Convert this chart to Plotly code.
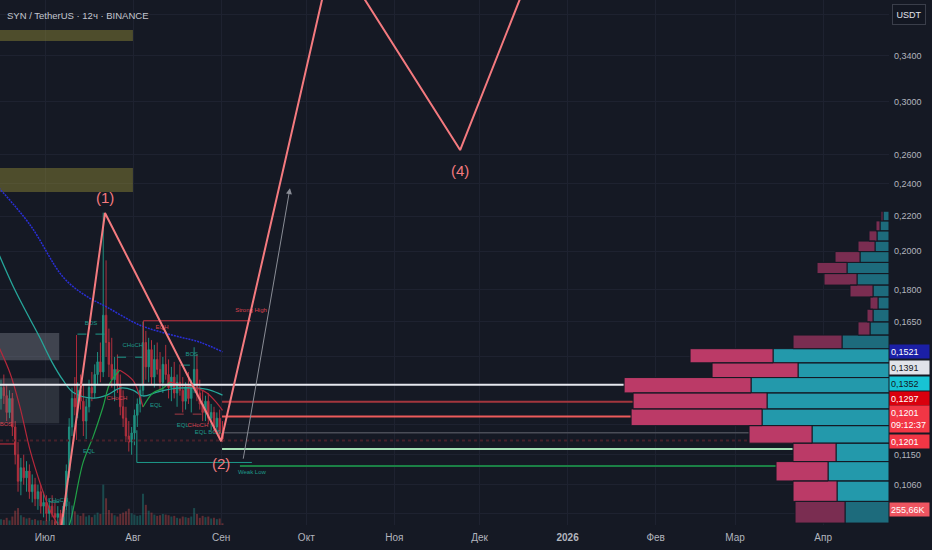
import numpy as np
import pandas as pd
import plotly.graph_objects as go

FONT = "Liberation Sans, Arial, sans-serif"
BG = "#151924"
GRID = "#1e2230"
AXIS_TXT = "#b2b5be"

title_text = "SYN / TetherUS · 12ч · BINANCE"

# ---------------- candles (daily approximation of the 12h chart) ----------------
candle_start = "2025-06-15 12:00"
opens = [0.134, 0.138, 0.135, 0.129, 0.134, 0.124, 0.115, 0.107, 0.111, 0.108,
         0.110, 0.104, 0.106, 0.102, 0.104, 0.100, 0.101, 0.098, 0.100, 0.098,
         0.097, 0.098, 0.095, 0.100, 0.110, 0.124, 0.134, 0.131, 0.137, 0.133,
         0.126, 0.131, 0.138, 0.136, 0.143, 0.148, 0.144, 0.168, 0.156, 0.147,
         0.141, 0.145, 0.139, 0.131, 0.127, 0.121, 0.119, 0.122, 0.128, 0.132,
         0.137, 0.156, 0.146, 0.153, 0.142, 0.149, 0.145, 0.140, 0.147, 0.143,
         0.138, 0.142, 0.136, 0.140, 0.137, 0.133, 0.138, 0.134, 0.139, 0.145,
         0.136, 0.132, 0.129, 0.133, 0.127, 0.129, 0.124, 0.127, 0.122]
highs = [0.141, 0.143, 0.139, 0.137, 0.136, 0.126, 0.119, 0.114, 0.115, 0.113,
         0.112, 0.109, 0.108, 0.106, 0.106, 0.104, 0.103, 0.102, 0.103, 0.101,
         0.100, 0.099, 0.101, 0.112, 0.127, 0.138, 0.142, 0.140, 0.143, 0.139,
         0.134, 0.141, 0.144, 0.147, 0.152, 0.156, 0.222, 0.195, 0.162, 0.158,
         0.150, 0.151, 0.143, 0.137, 0.131, 0.126, 0.124, 0.130, 0.134, 0.139,
         0.165, 0.161, 0.158, 0.157, 0.155, 0.156, 0.152, 0.150, 0.155, 0.149,
         0.146, 0.148, 0.143, 0.147, 0.142, 0.140, 0.144, 0.141, 0.154, 0.151,
         0.141, 0.137, 0.135, 0.136, 0.132, 0.131, 0.129, 0.130, 0.126]
lows = [0.130, 0.132, 0.126, 0.127, 0.121, 0.112, 0.104, 0.103, 0.106, 0.104,
        0.102, 0.101, 0.100, 0.099, 0.098, 0.097, 0.096, 0.096, 0.097, 0.095,
        0.094, 0.093, 0.094, 0.099, 0.108, 0.121, 0.128, 0.127, 0.130, 0.121,
        0.120, 0.129, 0.133, 0.134, 0.139, 0.140, 0.142, 0.150, 0.142, 0.138,
        0.133, 0.136, 0.128, 0.124, 0.119, 0.116, 0.115, 0.118, 0.124, 0.129,
        0.135, 0.141, 0.140, 0.139, 0.138, 0.143, 0.137, 0.136, 0.141, 0.134,
        0.133, 0.134, 0.131, 0.135, 0.129, 0.130, 0.132, 0.129, 0.136, 0.133,
        0.130, 0.126, 0.126, 0.125, 0.123, 0.122, 0.122, 0.120, 0.119]
closes = [0.138, 0.135, 0.129, 0.134, 0.124, 0.115, 0.107, 0.111, 0.108, 0.110,
          0.104, 0.106, 0.102, 0.104, 0.100, 0.101, 0.098, 0.100, 0.098, 0.097,
          0.098, 0.095, 0.100, 0.110, 0.124, 0.134, 0.131, 0.137, 0.133, 0.126,
          0.131, 0.138, 0.136, 0.143, 0.148, 0.144, 0.168, 0.156, 0.147, 0.141,
          0.145, 0.139, 0.131, 0.127, 0.121, 0.119, 0.122, 0.128, 0.132, 0.137,
          0.156, 0.146, 0.153, 0.142, 0.149, 0.145, 0.140, 0.147, 0.143, 0.138,
          0.142, 0.136, 0.140, 0.137, 0.133, 0.138, 0.134, 0.139, 0.145, 0.136,
          0.132, 0.129, 0.133, 0.127, 0.129, 0.124, 0.127, 0.122, 0.1201]
volumes_k = [900, 800, 1100, 700, 1300,
             2200, 2600, 1500, 1200, 1000,
             1100, 800, 900, 700, 750,
             650, 700, 600, 800, 550,
             500, 900, 1200, 2400, 3600,
             3000, 2100, 1600, 1400, 1800,
             1300, 1500, 1200, 1600, 1900,
             1700, 6200, 4100, 2300, 1800,
             1500, 1300, 1700, 1900, 2100,
             2500, 1800, 1600, 1400, 1500,
             4800, 3100, 2200, 1900, 1600,
             1400, 1500, 1700, 1600, 1500,
             1300, 1400, 1100, 1000, 1300,
             1200, 1100, 1300, 2600, 1700,
             1100, 1400, 1200, 1300, 1000,
             1100, 900, 1000, 256]
candle_dates = pd.date_range(candle_start, periods=len(closes), freq="D")

# ---------------- axes ----------------
x_start, x_end = "2025-06-15 03:36", "2026-04-24 04:20"
price_low, price_high = 0.0950, 0.3957
month_ticks = ["2025-07-01", "2025-08-01", "2025-09-01", "2025-10-01", "2025-11-01",
               "2025-12-01", "2026-01-01", "2026-02-01", "2026-03-01", "2026-04-01"]
month_labels = ["Июл", "Авг", "Сен", "Окт", "Ноя", "Дек", "<b>2026</b>", "Фев", "Мар", "Апр"]
price_ticks = [0.38, 0.34, 0.30, 0.26, 0.24, 0.22, 0.20, 0.18, 0.165, 0.15, 0.125, 0.115, 0.106, 0.098]
price_tick_labels = ["", "0,3400", "0,3000", "0,2600", "0,2400", "0,2200", "0,2000", "0,1800",
                     "0,1650", "", "", "0,1150", "0,1060", ""]

# ---------------- zones ----------------
zone_x0 = ["2025-06-10", "2025-06-10", "2025-06-10", "2025-06-10"]
zone_x1 = ["2025-07-31 23:00", "2025-07-31 23:00", "2025-07-06 00:00", "2025-07-06 00:00"]
zone_p0 = [0.3540, 0.2348, 0.1487, 0.1253]
zone_p1 = [0.3648, 0.2507, 0.1601, 0.1416]
zone_colors = ["rgba(158,150,58,0.42)", "rgba(158,150,58,0.42)",
               "rgba(125,128,140,0.42)", "rgba(125,128,140,0.24)"]

# ---------------- volume profile (bottom row -> top row) ----------------
profile_price_low = 0.0955
profile_row_size = 0.00579
profile_sell = [50, 44, 52, 43, 63, 131, 134, 127, 86, 83, 49, 12, 6, 8, 23, 33, 30, 25, 17, 8, 4, 2]
profile_buy = [44, 52, 61, 53, 77, 127, 122, 138, 91, 116, 47, 19, 16, 11, 16, 32, 42, 29, 14, 12, 9, 6]
profile_value_area = [0, 1, 1, 1, 1, 1, 1, 1, 1, 1, 0, 0, 0, 0, 0, 0, 0, 0, 0, 0, 0, 0]
profile_width_frac = 0.298

# ---------------- moving averages ----------------
blue_dates = ["2025-06-14 00:00", "2025-06-25 18:00", "2025-07-07 08:00", "2025-07-15 01:00",
              "2025-07-22 20:00", "2025-08-03 11:00", "2025-08-15 01:00", "2025-08-24 14:00",
              "2025-09-01 12:00"]
blue_vals = [0.2390, 0.2147, 0.1864, 0.1774, 0.1717, 0.1635, 0.1591, 0.1561, 0.1521]
teal_dates = ["2025-06-14 00:00", "2025-06-20 10:00", "2025-06-25 00:00", "2025-06-29 06:00",
              "2025-07-03 11:00", "2025-07-07 08:00", "2025-07-10 20:00", "2025-07-17 22:00",
              "2025-07-22 20:00", "2025-07-27 10:00", "2025-07-31 22:00", "2025-08-04 12:00",
              "2025-08-09 10:00", "2025-08-16 11:00", "2025-08-23 12:00", "2025-08-28 02:00",
              "2025-09-01 12:00"]
teal_vals = [0.2010, 0.1799, 0.1680, 0.1579, 0.1479, 0.1408, 0.1363, 0.1341, 0.1352,
             0.1378, 0.1371, 0.1349, 0.1363, 0.1378, 0.1378, 0.1371, 0.1352]
trend_segments = [
    ("#b5283b", ["2025-06-14 00:00", "2025-06-18 16:00", "2025-06-22 04:30", "2025-06-25 17:00",
                 "2025-06-29 06:00", "2025-07-02 18:00", "2025-07-05 05:00", "2025-07-07 16:00"],
     [0.1560, 0.1436, 0.1309, 0.1165, 0.1065, 0.0989, 0.0955, 0.0917]),
    ("#21a047", ["2025-07-07 16:00", "2025-07-09 19:00", "2025-07-14 08:00", "2025-07-17 22:00",
                 "2025-07-21 10:00", "2025-07-23 21:00", "2025-07-27 09:00"],
     [0.0917, 0.0955, 0.1124, 0.1207, 0.1309, 0.1397, 0.1447]),
    ("#b5283b", ["2025-07-27 09:00", "2025-07-31 22:00", "2025-08-03 11:00", "2025-08-04 12:00"],
     [0.1447, 0.1408, 0.1345, 0.1309]),
    ("#21a047", ["2025-08-04 12:00", "2025-08-08 00:00", "2025-08-11 13:00", "2025-08-14 00:00"],
     [0.1309, 0.1360, 0.1378, 0.1401]),
    ("#b5283b", ["2025-08-14 00:00", "2025-08-18 14:00", "2025-08-23 12:00", "2025-08-27 01:00",
                 "2025-08-30 13:00", "2025-09-01 12:00"],
     [0.1401, 0.1389, 0.1378, 0.1360, 0.1323, 0.1297]),
]

# ---------------- horizontal levels ----------------
level_prices = [0.1391, 0.1328, 0.1276, 0.1221, 0.1195, 0.1168, 0.1115]
level_starts = [x_start, "2025-09-01 08:00", "2025-09-01 08:00", "2025-09-01 08:00",
                x_start, "2025-09-01 08:00", "2025-09-07 15:00"]
level_styles = [("#e6e8ee", 2, "solid"), ("#a3363d", 2, "solid"), ("#ec5b5b", 2, "solid"),
                ("#4a4d57", 1.5, "solid"), ("#46202a", 2, "dot"), ("#a3dfb4", 2, "solid"),
                ("#1b8045", 2, "solid")]

# ---------------- market structure lines & labels ----------------
struct_lines = [
    (["2025-07-12 10:00", "2025-07-22 20:00"], [0.1596, 0.1596], "#1e9a8a", "dash"),
    (["2025-07-26 09:00", "2025-08-04 12:00"], [0.1499, 0.1499], "#1e9a8a", "dash"),
    (["2025-08-17 20:00", "2025-08-23 20:00"], [0.1467, 0.1467], "#1e9a8a", "dash"),
    (["2025-08-15 16:00", "2025-08-25 03:00"], [0.1284, 0.1284], "#a33a45", "dash"),
    (["2025-07-02 21:00", "2025-07-07 03:00"], [0.1011, 0.1011], "#1e9a8a", "dash"),
    (["2025-08-04 15:00", "2025-08-04 15:00", "2025-09-11 12:00"], [0.1391, 0.1655, 0.1655], "#c8323f", "solid"),
    (["2025-07-12 02:00", "2025-07-12 02:00"], [0.1197, 0.1592], "#b02a3a", "solid"),
    ([x_start, "2025-06-20 10:00"], [0.1184, 0.1184], "#d0303f", "solid"),
    (["2025-08-02 08:00", "2025-08-02 08:00", "2025-09-11 20:00"], [0.1229, 0.1126, 0.1126], "#1e9a8a", "solid"),
]
struct_text = ["BOS", "CHoCH", "CHoCH", "EQL", "EQH", "EQL", "BOS", "EQL", "CHoCH",
               "EQL BOS", "CHoCH", "BOS", "Strong High", "Weak Low"]
struct_dates = ["2025-07-17 04:30", "2025-07-31 22:00", "2025-07-26 08:00", "2025-07-16 11:00",
                "2025-08-11 04:30", "2025-08-09 01:00", "2025-08-21 16:00", "2025-08-18 13:00",
                "2025-08-23 20:00", "2025-08-27 08:00", "2025-07-05 13:00", "2025-06-17 06:00",
                "2025-09-11 13:00", "2025-09-11 20:00"]
struct_prices = [0.1644, 0.1549, 0.1338, 0.1161, 0.1627, 0.1316, 0.1512, 0.1246, 0.1246,
                 0.1220, 0.1016, 0.1249, 0.1703, 0.1097]
struct_bull = [1, 1, 0, 1, 0, 1, 1, 1, 0, 1, 1, 0, 0, 1]

# ---------------- Elliott wave projection ----------------
wave_dates = ["2025-07-06 18:00", "2025-07-22 03:00", "2025-09-01 00:00",
              "2025-10-10 13:00", "2025-11-24 04:00", "2025-12-29 08:00"]
wave_prices = [0.0945, 0.2218, 0.1193, 0.4533, 0.2632, 0.5222]
wave_labels = {1: "(1)", 2: "(2)", 4: "(4)"}
arrow_from = ("2025-09-08 17:00", 0.1133)
arrow_to = ("2025-09-25 06:00", 0.2373)

# ---------------- right scale badges ----------------
badge_prices = [0.1521, 0.1391, 0.1352, 0.1297, 0.1201, 0.1201]
badge_texts = ["0,1521", "0,1391", "0,1352", "0,1297", "0,1201<br>09:12:37", "0,1201"]
badge_bg = ["#1b1fa6", "#e1e3ea", "#18c3d3", "#d9000d", "#f23645", "#f23645"]
badge_fg = ["#ffffff", "#131722", "#131722", "#ffffff", "#ffffff", "#ffffff"]
badge_shift = [0, 17, 11.5, 12, 19.5, -3]
volume_badge = "255,66K"

fig = go.Figure()

for x0, x1, p0, p1, c in zip(zone_x0, zone_x1, zone_p0, zone_p1, zone_colors):
    fig.add_trace(go.Scatter(x=[x0, x1, x1, x0, x0], y=[p0, p0, p1, p1, p0], mode="lines",
                             fill="toself", fillcolor=c, line=dict(width=0),
                             hoverinfo="skip", showlegend=False))

# volume profile
W = max(s + b for s, b in zip(profile_sell, profile_buy)) / profile_width_frac
groups = {("buy", 1): ([], []), ("buy", 0): ([], []), ("sell", 1): ([], []), ("sell", 0): ([], [])}
for i, (s, b, va) in enumerate(zip(profile_sell, profile_buy, profile_value_area)):
    lo = profile_price_low + i * profile_row_size
    hi = lo + profile_row_size
    for side, a0, a1 in (("buy", 0, b), ("sell", b, b + s)):
        xs, ys = groups[(side, va)]
        xs += [a0, a1, a1, a0, a0, None]
        ys += [lo, lo, hi, hi, lo, None]
profile_colors = {("buy", 1): "#2399ab", ("buy", 0): "#1d6b7c",
                  ("sell", 1): "#bb3a67", ("sell", 0): "#7a2d51"}
for key, (xs, ys) in groups.items():
    fig.add_trace(go.Scatter(x=xs, y=ys, xaxis="x2", yaxis="y", mode="lines", fill="toself",
                             fillcolor=profile_colors[key], line=dict(width=1, color=BG),
                             hoverinfo="skip", showlegend=False))

vol_colors = ["rgba(38,166,154,0.35)" if c >= o else "rgba(239,83,80,0.35)"
              for o, c in zip(opens, closes)]
fig.add_trace(go.Bar(x=candle_dates, y=volumes_k, yaxis="y2", marker=dict(color=vol_colors, line=dict(width=0)),
                     width=0.7 * 86400000, hoverinfo="skip", showlegend=False))

fig.add_trace(go.Candlestick(x=candle_dates, open=opens, high=highs, low=lows, close=closes,
                             increasing=dict(line=dict(color="#1f8f7f", width=1), fillcolor="#1f8f7f"),
                             decreasing=dict(line=dict(color="#b0303e", width=1), fillcolor="#b0303e"),
                             hoverinfo="skip", showlegend=False))

fig.add_trace(go.Scatter(x=blue_dates, y=blue_vals, mode="lines",
                         line=dict(color="#2a2fd6", width=1.5, dash="2px,1px", shape="spline"),
                         hoverinfo="skip", showlegend=False))
fig.add_trace(go.Scatter(x=teal_dates, y=teal_vals, mode="lines", line=dict(color="#26a69a", width=1.3, shape="spline"),
                         hoverinfo="skip", showlegend=False))
for color, ds, vs in trend_segments:
    fig.add_trace(go.Scatter(x=ds, y=vs, mode="lines", line=dict(color=color, width=1.2, shape="spline"),
                             hoverinfo="skip", showlegend=False))

for ds, vs, c, dash in struct_lines:
    fig.add_trace(go.Scatter(x=ds, y=vs, mode="lines", line=dict(color=c, width=1, dash=dash),
                             hoverinfo="skip", showlegend=False))

for p, s, (c, w, dash) in zip(level_prices, level_starts, level_styles):
    fig.add_trace(go.Scatter(x=[s, x_end], y=[p, p], mode="lines", line=dict(color=c, width=w, dash=dash),
                             hoverinfo="skip", showlegend=False))

fig.add_trace(go.Scatter(x=struct_dates, y=struct_prices, mode="text", text=struct_text,
                         textfont=dict(size=6, family=FONT,
                                       color=["#1e9a8a" if b else "#d9434f" for b in struct_bull]),
                         cliponaxis=True, hoverinfo="skip", showlegend=False))

fig.add_trace(go.Scatter(x=wave_dates, y=wave_prices, mode="lines", line=dict(color="#f47a7f", width=2),
                         hoverinfo="skip", showlegend=False))

annotations = []
label_offsets = {1: 16, 2: -22, 4: -20}
for idx, txt in wave_labels.items():
    annotations.append(dict(x=wave_dates[idx], y=np.log10(wave_prices[idx]), xref="x", yref="y",
                            text=txt, showarrow=False, yshift=label_offsets[idx],
                            font=dict(size=15, color="#f47a7f", family=FONT)))
annotations.append(dict(x=arrow_to[0], y=np.log10(arrow_to[1]), ax=arrow_from[0], ay=np.log10(arrow_from[1]),
                        xref="x", yref="y", axref="x", ayref="y", text="", showarrow=True,
                        arrowhead=2, arrowsize=1.2, arrowwidth=1, arrowcolor="#8a8d96"))

annotations.append(dict(x=5 / 889, y=1, xref="paper", yref="paper", xanchor="left", yanchor="middle",
                        yshift=-15, text=title_text, showarrow=False,
                        font=dict(size=9.5, color="#c3c6ce", family=FONT)))
annotations.append(dict(x=1, y=1, xref="paper", yref="paper", xanchor="left", yanchor="top",
                        xshift=3, yshift=-4, text="USDT", showarrow=False, width=28, height=15,
                        bgcolor="#131722", bordercolor="#3a3e4a", borderwidth=1, borderpad=2,
                        font=dict(size=9, color="#e0e3eb", family=FONT)))
for p, t, bg, fg, sh in zip(badge_prices, badge_texts, badge_bg, badge_fg, badge_shift):
    two = "<br>" in t
    annotations.append(dict(x=1, y=np.log10(p), xref="paper", yref="y", xanchor="left", yanchor="middle",
                            yshift=sh, text=t, showarrow=False, align="left", width=37,
                            height=24 if two else 11, bgcolor=bg, borderpad=1,
                            font=dict(size=9, color=fg, family=FONT)))
annotations.append(dict(x=1, y=(525 - 509) / 525, xref="paper", yref="paper", xanchor="left", yanchor="middle",
                        text=volume_badge, showarrow=False, align="left", width=37, height=11,
                        bgcolor="#ee5561", borderpad=1, font=dict(size=9, color="#ffffff", family=FONT)))

fig.update_layout(
    width=932, height=550,
    margin=dict(l=0, r=43, t=0, b=25, autoexpand=False),
    paper_bgcolor=BG, plot_bgcolor=BG,
    showlegend=False,
    font=dict(family=FONT, color=AXIS_TXT, size=10),
    xaxis=dict(type="date", range=[x_start, x_end], tickvals=month_ticks, ticktext=month_labels,
               showgrid=True, gridcolor=GRID, gridwidth=1, zeroline=False, showline=False, ticks="",
               automargin=False, rangeslider=dict(visible=False), ticklabelstandoff=5,
               tickfont=dict(size=10, color=AXIS_TXT, family=FONT)),
    xaxis2=dict(overlaying="x", range=[W, 0], visible=False, automargin=False),
    yaxis=dict(type="log", range=[np.log10(price_low), np.log10(price_high)], side="right",
               tickvals=price_ticks, ticktext=price_tick_labels, showgrid=True, gridcolor=GRID,
               zeroline=False, showline=False, ticks="", ticklabelstandoff=4, automargin=False,
               tickfont=dict(size=9, color=AXIS_TXT, family=FONT)),
    yaxis2=dict(overlaying="y", range=[0, max(volumes_k) * 13], visible=False, automargin=False),
    annotations=annotations,
)

fig.write_html("out.html", config={"displayModeBar": False},
               post_script="document.body.style.margin='0';document.body.style.background='%s';" % BG)
